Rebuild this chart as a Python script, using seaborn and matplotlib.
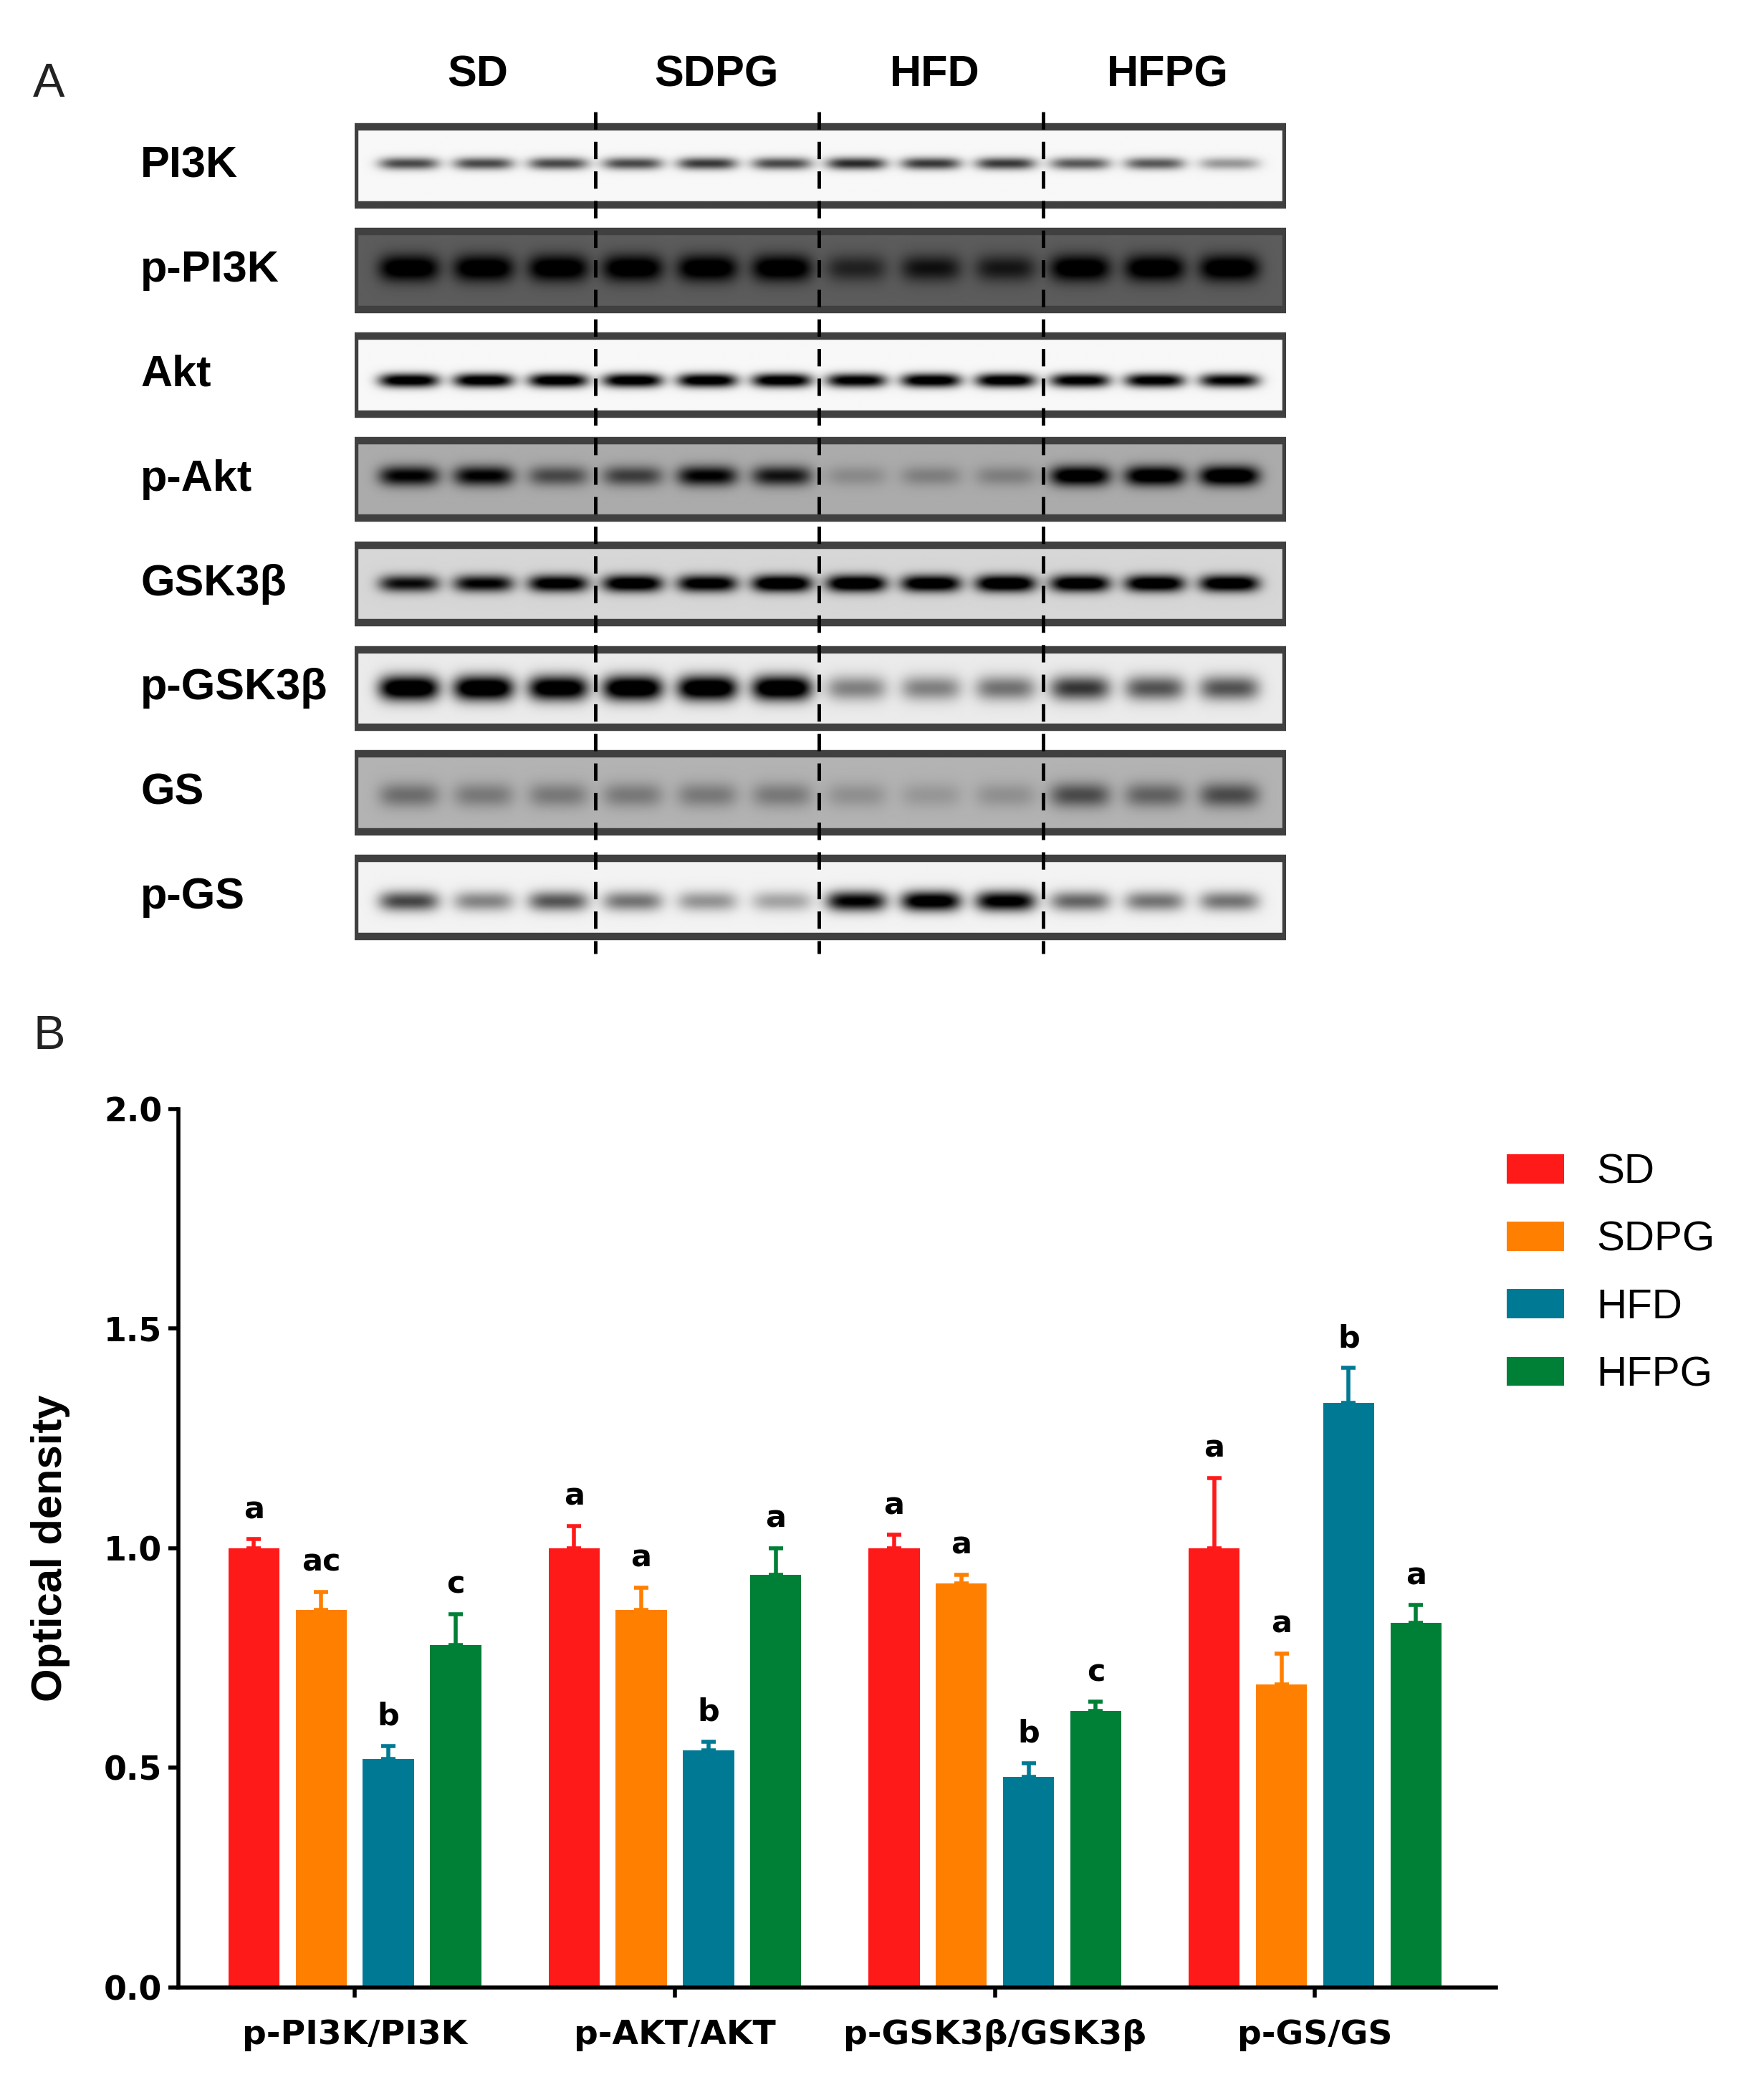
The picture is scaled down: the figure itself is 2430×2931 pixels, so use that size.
import numpy as np
import pandas as pd
import seaborn as sns
import matplotlib.pyplot as plt
import matplotlib.transforms as mtransforms
from matplotlib.patches import Rectangle

# -----------------------------
# Datos del panel B (densidad óptica)
# -----------------------------
groups = ["SD", "SDPG", "HFD", "HFPG"]
ratios = ["p-PI3K/PI3K", "p-AKT/AKT", "p-GSK3β/GSK3β", "p-GS/GS"]

sd_mean = [1.00, 1.00, 1.00, 1.00]
sdpg_mean = [0.86, 0.86, 0.92, 0.69]
hfd_mean = [0.52, 0.54, 0.48, 1.33]
hfpg_mean = [0.78, 0.94, 0.63, 0.83]

sd_err = [0.02, 0.05, 0.03, 0.16]
sdpg_err = [0.04, 0.05, 0.02, 0.07]
hfd_err = [0.03, 0.02, 0.03, 0.08]
hfpg_err = [0.07, 0.06, 0.02, 0.04]

sd_letters = ["a", "a", "a", "a"]
sdpg_letters = ["ac", "a", "a", "a"]
hfd_letters = ["b", "b", "b", "b"]
hfpg_letters = ["c", "a", "c", "a"]

# -----------------------------
# Datos del panel A (western blot, intensidad de banda por carril)
# -----------------------------
proteins = ["PI3K", "p-PI3K", "Akt", "p-Akt", "GSK3β", "p-GSK3β", "GS", "p-GS"]
lanes_per_group = 3
blot_background = [0.03, 0.64, 0.03, 0.33, 0.16, 0.08, 0.30, 0.05]
pi3k_bands = [0.55, 0.55, 0.55, 0.55, 0.60, 0.55, 0.65, 0.60, 0.60, 0.50, 0.50, 0.30]
p_pi3k_bands = [1.0, 1.0, 1.0, 1.0, 1.0, 1.0, 0.50, 0.65, 0.60, 1.0, 1.0, 1.0]
akt_bands = [0.90, 0.90, 0.90, 0.90, 0.90, 0.90, 0.85, 0.90, 0.90, 0.85, 0.85, 0.80]
p_akt_bands = [0.80, 0.80, 0.45, 0.50, 0.80, 0.70, 0.15, 0.20, 0.20, 0.95, 0.95, 1.0]
gsk_bands = [0.75, 0.80, 0.90, 0.95, 0.90, 1.0, 1.0, 0.95, 1.0, 0.95, 0.95, 0.95]
p_gsk_bands = [1.0, 1.0, 0.95, 1.0, 1.0, 1.0, 0.35, 0.35, 0.40, 0.60, 0.50, 0.50]
gs_bands = [0.30, 0.25, 0.25, 0.25, 0.25, 0.25, 0.15, 0.12, 0.15, 0.45, 0.35, 0.45]
p_gs_bands = [0.55, 0.35, 0.50, 0.40, 0.30, 0.25, 0.80, 0.90, 0.85, 0.45, 0.40, 0.40]
band_center = [0.47, 0.47, 0.57, 0.46, 0.50, 0.50, 0.53, 0.55]
band_thickness = [0.08, 0.17, 0.09, 0.13, 0.11, 0.16, 0.16, 0.13]

band_levels = [pi3k_bands, p_pi3k_bands, akt_bands, p_akt_bands,
               gsk_bands, p_gsk_bands, gs_bands, p_gs_bands]

colors = ["#FF1A1A", "#FF8000", "#007A94", "#007F36"]

# -----------------------------
# Estilo
# -----------------------------
sns.set_theme(style="ticks")
plt.rcParams["font.family"] = ["Liberation Sans", "DejaVu Sans"]
plt.rcParams["text.color"] = "black"
plt.rcParams["axes.labelcolor"] = "black"
plt.rcParams["xtick.color"] = "black"
plt.rcParams["ytick.color"] = "black"
wide_bold = dict(family=["DejaVu Sans"], fontweight="bold")

fig = plt.figure(figsize=(24.3, 29.31), dpi=100)
fig.patch.set_facecolor("white")

# -----------------------------
# Panel A: blots
# -----------------------------
ax_a = fig.add_axes([0.2038, 0.5265, 0.5347, 0.4627])
x_lo, x_hi = -0.72, 11.75
row_h = 0.744
group_label_x = [0.93, 4.12, 7.05, 10.17]

W, H = 600, 70
xs = np.linspace(x_lo, x_hi, W)
ys = np.linspace(0, 1, H)
for r, prot in enumerate(proteins):
    bg = blot_background[r]
    signal = np.zeros((H, W))
    for lane, level in enumerate(band_levels[r]):
        px = np.exp(-((xs - lane) / 0.40) ** 4)
        py = np.exp(-((ys - band_center[r]) / band_thickness[r]) ** 2)
        signal += level * np.outer(py, px)
    dark = bg + (1 - bg) * np.clip(1.3 * signal, 0, 1)
    ax_a.imshow(1 - dark, cmap="gray", vmin=0, vmax=1, aspect="auto",
                extent=(x_lo, x_hi, r + row_h, r), interpolation="bilinear", zorder=1)
    ax_a.add_patch(Rectangle((x_lo, r), x_hi - x_lo, row_h, fill=False,
                             ec="#404040", lw=7.5, zorder=3))

label_tr = mtransforms.blended_transform_factory(fig.transFigure, ax_a.transData)
for r, prot in enumerate(proteins):
    ax_a.text(0.0808, r + row_h / 2, prot, transform=label_tr, ha="left", va="center",
              fontsize=44, fontweight="bold", color="black")

bounds = [g * lanes_per_group - 0.5 for g in range(1, len(groups))]
ax_a.vlines(bounds, -0.15, 7.91, colors="black", lw=3.5,
            linestyles=(0, (5, 3.5)), zorder=4)
for gx, name in zip(group_label_x, groups):
    ax_a.text(gx, -0.50, name, ha="center", va="center",
              fontsize=44, fontweight="bold")

ax_a.set_xlim(x_lo, x_hi)
ax_a.set_ylim(8.3, -1.0)
ax_a.axis("off")

fig.text(0.019, 1 - 72 / 1568, "A", fontsize=48, color="#222222")
fig.text(0.019, 1 - 783 / 1568, "B", fontsize=48, color="#222222")

# -----------------------------
# Panel B: barras
# -----------------------------
df = pd.DataFrame({
    "ratio": ratios * 4,
    "group": np.repeat(groups, len(ratios)),
    "value": sd_mean + sdpg_mean + hfd_mean + hfpg_mean,
})
errs = [sd_err, sdpg_err, hfd_err, hfpg_err]
letters = [sd_letters, sdpg_letters, hfd_letters, hfpg_letters]

ax = fig.add_axes([0.1023, 0.0536, 0.7569, 0.4184])
sns.barplot(data=df, x="ratio", y="value", hue="group", order=ratios, hue_order=groups,
            palette=colors, width=0.84, gap=0.24, saturation=1, errorbar=None,
            linewidth=0, ax=ax)

bar_containers = list(ax.containers)
for gi, cont in enumerate(bar_containers):
    for ri, bar in enumerate(cont.patches):
        xc = bar.get_x() + bar.get_width() / 2
        top = bar.get_height()
        e = errs[gi][ri]
        ax.errorbar(xc, top, yerr=[[0], [e]], fmt="none", ecolor=colors[gi],
                    elinewidth=4, capsize=7, capthick=4, zorder=3)
        ax.text(xc, top + e + 0.033, letters[gi][ri], ha="center", va="bottom",
                fontsize=31, **wide_bold)

ax.set_xlim(-0.552, 3.565)
ax.set_ylim(0, 2.0)
ax.set_yticks([0.0, 0.5, 1.0, 1.5, 2.0])
ax.set_yticklabels([f"{v:.1f}" for v in [0.0, 0.5, 1.0, 1.5, 2.0]])
ax.set_xlabel("")
ax.set_ylabel("Optical density", fontsize=43, fontweight="bold")
ax.yaxis.set_label_coords(-0.082, 0.5)
for lab in ax.get_yticklabels() + ax.get_xticklabels():
    lab.set_fontfamily("DejaVu Sans")
    lab.set_fontweight("bold")
ax.tick_params(axis="y", labelsize=33, width=4, length=10, pad=6)
ax.tick_params(axis="x", labelsize=34, width=4, length=10, pad=22)
sns.despine(ax=ax)
for s in ["left", "bottom"]:
    ax.spines[s].set_linewidth(4)
    ax.spines[s].set_color("black")

ax.legend(loc="upper left", bbox_to_anchor=(0.8654, 0.4508), bbox_transform=fig.transFigure,
          frameon=False, fontsize=42, handlelength=1.38, handleheight=0.7,
          handletextpad=0.77, labelspacing=0.69, borderpad=0, borderaxespad=0)

fig.savefig("out.png", dpi=100, facecolor="white")
